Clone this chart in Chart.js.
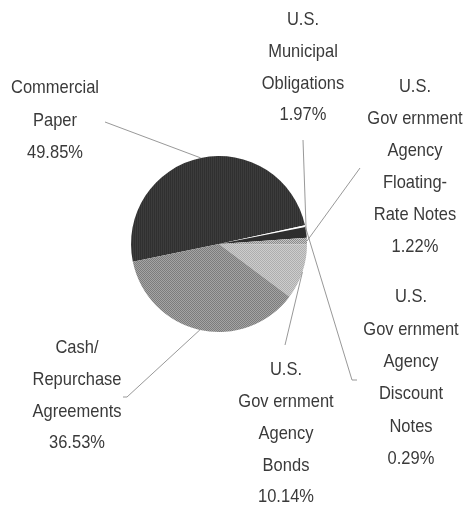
<!DOCTYPE html>
<html>
<head>
<meta charset="utf-8">
<script src="https://cdn.jsdelivr.net/npm/chart.js@4/dist/chart.umd.min.js"></script>
<style>
  html, body { margin: 0; padding: 0; background: #ffffff; }
  #wrap { width: 464px; height: 505px; position: relative; }
</style>
</head>
<body>
<div id="wrap"><canvas id="pie" width="464" height="505"></canvas></div>
<script>
// Portfolio composition, clockwise from the Commercial Paper slice
const categories = [
  'Commercial Paper',
  'U.S. Government Agency Discount Notes',
  'U.S. Municipal Obligations',
  'U.S. Government Agency Floating-Rate Notes',
  'U.S. Government Agency Bonds',
  'Cash/Repurchase Agreements'
];
const shares = [49.85, 0.29, 1.97, 1.22, 10.14, 36.53];
const labelLines = [
  ['Commercial', 'Paper'],
  ['U.S.', 'Gov ernment', 'Agency', 'Discount', 'Notes'],
  ['U.S.', 'Municipal', 'Obligations'],
  ['U.S.', 'Gov ernment', 'Agency', 'Floating-', 'Rate Notes'],
  ['U.S.', 'Gov ernment', 'Agency', 'Bonds'],
  ['Cash/', 'Repurchase', 'Agreements']
];

// Label placement: text block centre x, first line y, line gap, leader start, optional tick end x
const labelLayout = [
  { x: 55,  y: 88,  gap: 32.5, ax: 105, ay: 122 },
  { x: 411, y: 297, gap: 32.4, ax: 352, ay: 380, tick: 357 },
  { x: 303, y: 20,  gap: 31.7, ax: 303, ay: 140 },
  { x: 415, y: 87,  gap: 32.0, ax: 360, ay: 168 },
  { x: 286, y: 370, gap: 31.8, ax: 285, ay: 345 },
  { x: 77,  y: 348, gap: 31.7, ax: 127, ay: 397, tick: 123 }
];

// Small halftone-like fills
function pattern(cells) {
  const h = cells.length, w = cells[0].length;
  const c = document.createElement('canvas');
  c.width = w; c.height = h;
  const g = c.getContext('2d');
  for (let j = 0; j < h; j++) {
    for (let i = 0; i < w; i++) {
      g.fillStyle = cells[j][i];
      g.fillRect(i, j, 1, 1);
    }
  }
  return g.createPattern(c, 'repeat');
}
const fills = [
  pattern([['#303030', '#3c3c3c']]),
  '#ffffff',
  '#2e2e2e',
  pattern([['#8a8a8a', '#c6c6c6'], ['#c6c6c6', '#8a8a8a']]),
  pattern([['#aeaeae', '#cdcdcd'], ['#cdcdcd', '#aeaeae']]),
  pattern([['#7c7c7c', '#a4a4a4'], ['#a4a4a4', '#7c7c7c']])
];

const calloutPlugin = {
  id: 'callouts',
  afterDatasetsDraw(chart) {
    const ctx = chart.ctx;
    const arcs = chart.getDatasetMeta(0).data;
    ctx.save();
    // leader lines from each label to the rim of its slice
    ctx.strokeStyle = '#8c8c8c';
    ctx.lineWidth = 0.9;
    arcs.forEach((arc, i) => {
      const L = labelLayout[i];
      const mid = (arc.startAngle + arc.endAngle) / 2;
      const ex = arc.x + arc.outerRadius * Math.cos(mid);
      const ey = arc.y + arc.outerRadius * Math.sin(mid);
      ctx.beginPath();
      if (L.tick !== undefined) ctx.moveTo(L.tick, L.ay);
      else ctx.moveTo(L.ax, L.ay);
      ctx.lineTo(L.ax, L.ay);
      ctx.lineTo(ex, ey);
      ctx.stroke();
    });
    // multi-line labels with the share as last line
    ctx.fillStyle = '#3a3a3a';
    ctx.font = '16.5px "Liberation Sans", Arial, sans-serif';
    ctx.textAlign = 'center';
    ctx.textBaseline = 'middle';
    labelLines.forEach((lines, i) => {
      const L = labelLayout[i];
      const all = lines.concat([shares[i].toFixed(2) + '%']);
      all.forEach((t, k) => {
        ctx.save();
        ctx.translate(L.x, L.y + k * L.gap);
        ctx.scale(1, 1.15);
        ctx.fillText(t, 0, 0);
        ctx.restore();
      });
    });
    ctx.restore();
  }
};

new Chart(document.getElementById('pie'), {
  type: 'pie',
  data: {
    labels: categories,
    datasets: [{
      data: shares,
      backgroundColor: fills,
      borderWidth: 0
    }]
  },
  options: {
    responsive: false,
    animation: false,
    rotation: 258.3,
    layout: { padding: { left: 131, right: 157, top: 156, bottom: 173 } },
    plugins: {
      legend: { display: false },
      tooltip: { enabled: false }
    }
  },
  plugins: [calloutPlugin]
});
</script>
</body>
</html>
